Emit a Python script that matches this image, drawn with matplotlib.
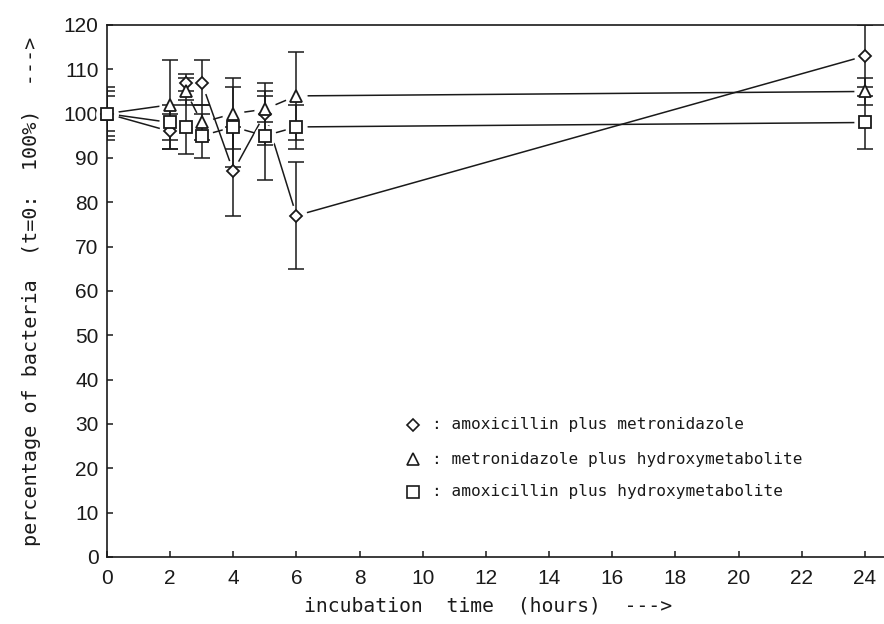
import matplotlib
matplotlib.use("Agg")
import matplotlib.pyplot as plt

# ---- data ----
hours = [0, 2, 2.5, 3, 4, 5, 6, 24]
amox_metro = [100, 96, 107, 107, 87, 100, 77, 113]
amox_metro_err = [4, 4, 2, 5, 10, 7, 12, 7]
metro_hydroxy = [100, 102, 105, 98, 100, 101, 104, 105]
metro_hydroxy_err = [5, 10, 3, 4, 8, 3, 10, 3]
amox_hydroxy = [100, 98, 97, 95, 97, 95, 97, 98]
amox_hydroxy_err = [6, 4, 6, 5, 9, 10, 5, 6]
series_labels = ["amoxicillin plus metronidazole",
                 "metronidazole plus hydroxymetabolite",
                 "amoxicillin plus hydroxymetabolite"]
x_ticks = list(range(0, 25, 2))
y_ticks = list(range(0, 121, 10))

INK = "#1a1a1a"
fig = plt.figure(figsize=(8.84, 6.24), dpi=100)
ax = fig.add_axes([0.121, 0.1074, 0.8932, 0.8526])

series = [
    (amox_metro, amox_metro_err, "D", 6.2),
    (metro_hydroxy, metro_hydroxy_err, "^", 9.0),
    (amox_hydroxy, amox_hydroxy_err, "s", 8.8),
]

for vals, errs, mk, ms in series:
    ax.plot(hours, vals, color=INK, lw=1.1, zorder=1, clip_on=False)
for vals, errs, mk, ms in series:
    ax.plot(hours, vals, ls="none", marker="o", ms=15, mfc="white",
            mec="white", zorder=2, clip_on=False)
for vals, errs, mk, ms in series:
    ax.errorbar(hours, vals, yerr=errs, fmt="none", ecolor=INK,
                elinewidth=1.1, capsize=5.5, capthick=1.1, zorder=3)
for vals, errs, mk, ms in series:
    ax.plot(hours, vals, ls="none", marker=mk, ms=ms, mfc="white",
            mec=INK, mew=1.3, zorder=4, clip_on=False)

# legend drawn as text block inside the axes
leg_x = 9.69
leg_tx = 10.29
leg_y = [29.8, 22.1, 14.7]
for (vals, errs, mk, ms), lab, yy in zip(series, series_labels, leg_y):
    ax.plot([leg_x], [yy], ls="none", marker=mk, ms=ms * 0.95, mfc="white",
            mec=INK, mew=1.2, zorder=5)
    ax.text(leg_tx, yy, ": " + lab, family="DejaVu Sans Mono", fontsize=11.6,
            color=INK, va="center", ha="left")

ax.set_xlim(0, 25)
ax.set_ylim(0, 120)
ax.set_xticks(x_ticks)
ax.set_yticks(y_ticks)
for lab in ax.get_xticklabels() + ax.get_yticklabels():
    lab.set_family("Liberation Sans")
    lab.set_fontsize(15)
ax.tick_params(axis="y", direction="in", length=4, width=1.1, pad=6, colors=INK)
ax.tick_params(axis="x", direction="in", length=4, width=1.1, pad=9, colors=INK)
ax.spines["right"].set_visible(False)
for s in ("left", "bottom", "top"):
    ax.spines[s].set_linewidth(1.2)
    ax.spines[s].set_color(INK)

ax.set_xlabel("incubation  time  (hours)  --->", family="DejaVu Sans Mono",
              fontsize=14.2, color=INK, labelpad=6)
ax.xaxis.set_label_coords(0.483, -0.075)
ax.set_ylabel("percentage of bacteria  (t=0:  100%)  --->",
              family="DejaVu Sans Mono", fontsize=14.5, color=INK, labelpad=16)

fig.savefig("out.png", dpi=100)
